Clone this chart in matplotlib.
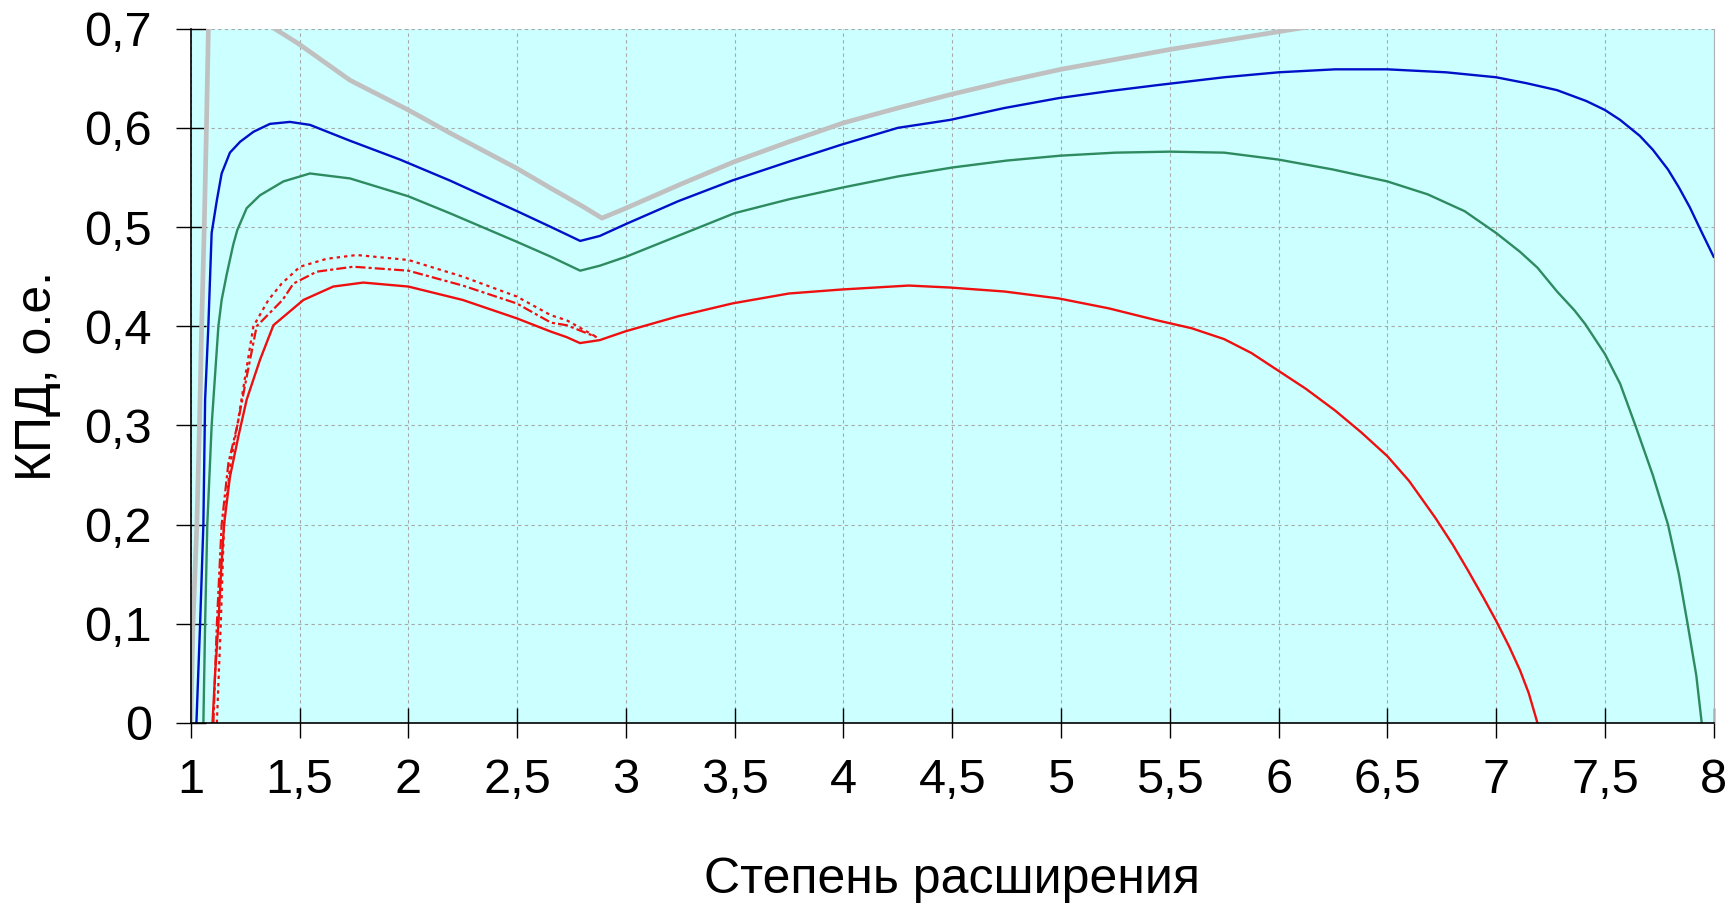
import matplotlib
matplotlib.use('Agg')
import matplotlib.pyplot as plt

# efficiency vs expansion ratio
gray_x = [1.0, 1.01, 1.028, 1.04, 1.05, 1.062, 1.072, 1.081, 1.09, 1.15, 1.25, 1.38, 1.494,
          1.732, 2.0, 2.19, 2.5, 2.656, 2.8, 2.89, 3.0, 3.25, 3.5, 3.75, 4.0, 4.25, 4.5, 4.75,
          5.0, 5.25, 5.5, 5.75, 6.0, 6.2]
gray_y = [0, 0.1, 0.2, 0.3, 0.4, 0.5, 0.6, 0.7, 0.74, 0.76, 0.74, 0.7007, 0.685,
          0.648, 0.618, 0.595, 0.559, 0.539, 0.521, 0.509, 0.519, 0.543, 0.566, 0.586, 0.605,
          0.62, 0.634, 0.647, 0.659, 0.669, 0.679, 0.688, 0.697, 0.704]

blue_x = [1.026, 1.043, 1.058, 1.066, 1.081, 1.096, 1.12, 1.142, 1.18, 1.227, 1.288, 1.364,
          1.456, 1.548, 1.732, 1.962, 2.19, 2.5, 2.656, 2.79, 2.88, 3.0, 3.24, 3.49, 3.75, 3.99,
          4.25, 4.49, 4.74, 4.99, 5.22, 5.44, 5.75, 6.0, 6.26, 6.5, 6.77, 7.0, 7.14, 7.28, 7.415,
          7.5, 7.57, 7.66, 7.72, 7.79, 7.84, 7.89, 7.94, 8.0]
blue_y = [0, 0.1, 0.2, 0.326, 0.401, 0.494, 0.527, 0.554, 0.575, 0.586, 0.596, 0.604,
          0.606, 0.603, 0.587, 0.568, 0.547, 0.516, 0.500, 0.486, 0.491, 0.503, 0.526, 0.547,
          0.566, 0.583, 0.600, 0.608, 0.620, 0.630, 0.637, 0.643, 0.651, 0.656, 0.659, 0.659,
          0.656, 0.651, 0.645, 0.638, 0.627, 0.618, 0.608, 0.592, 0.578, 0.558, 0.540, 0.520,
          0.497, 0.470]

green_x = [1.058, 1.066, 1.076, 1.096, 1.127, 1.142, 1.165, 1.195, 1.214, 1.257, 1.318, 1.426,
           1.548, 1.732, 2.0, 2.19, 2.5, 2.656, 2.79, 2.88, 3.0, 3.25, 3.5, 3.75, 4.0, 4.25,
           4.5, 4.75, 5.0, 5.25, 5.5, 5.75, 6.0, 6.25, 6.5, 6.685, 6.855, 7.0, 7.11, 7.19, 7.28,
           7.36, 7.41, 7.5, 7.57, 7.64, 7.72, 7.79, 7.84, 7.88, 7.92, 7.945]
green_y = [0, 0.1, 0.2, 0.3, 0.4, 0.4265, 0.452, 0.482, 0.497, 0.519, 0.532, 0.546,
           0.554, 0.549, 0.531, 0.514, 0.485, 0.470, 0.456, 0.461, 0.470, 0.492, 0.514, 0.528,
           0.540, 0.551, 0.560, 0.567, 0.572, 0.575, 0.576, 0.575, 0.568, 0.558, 0.546, 0.533,
           0.516, 0.494, 0.475, 0.459, 0.435, 0.416, 0.402, 0.372, 0.342, 0.300, 0.250, 0.200,
           0.150, 0.100, 0.048, 0]

red_x = [1.10, 1.112, 1.127, 1.139, 1.153, 1.18, 1.219, 1.257, 1.318, 1.38, 1.518, 1.655,
         1.793, 2.0, 2.25, 2.498, 2.656, 2.728, 2.789, 2.88, 3.0, 3.24, 3.49, 3.75, 3.99, 4.30,
         4.49, 4.74, 4.99, 5.22, 5.44, 5.6, 5.75, 5.875, 6.0, 6.125, 6.26, 6.38, 6.5, 6.6, 6.72,
         6.8, 6.87, 6.94, 7.0, 7.06, 7.11, 7.15, 7.19]
red_y = [0, 0.05, 0.1, 0.151, 0.2, 0.248, 0.289, 0.326, 0.366, 0.401, 0.4265, 0.44,
         0.444, 0.44, 0.4265, 0.408, 0.3945, 0.389, 0.383, 0.386, 0.395, 0.41, 0.423, 0.433,
         0.437, 0.441, 0.439, 0.435, 0.428, 0.418, 0.406, 0.398, 0.387, 0.373, 0.355, 0.337,
         0.315, 0.293, 0.269, 0.244, 0.207, 0.18, 0.154, 0.127, 0.103, 0.077, 0.053, 0.030, 0]

red_dash_x = [1.104, 1.12, 1.142, 1.173, 1.214, 1.257, 1.303, 1.422, 1.472, 1.579, 1.747, 2.0,
              2.25, 2.498, 2.656, 2.728, 2.866]
red_dash_y = [0, 0.1, 0.2, 0.262, 0.3, 0.349, 0.4, 0.4265, 0.443, 0.455, 0.460, 0.456,
              0.441, 0.423, 0.4036, 0.401, 0.389]

red_dot_x = [1.12, 1.138, 1.153, 1.18, 1.214, 1.25, 1.288, 1.357, 1.418, 1.502, 1.625, 1.763,
             2.0, 2.25, 2.498, 2.656, 2.728, 2.866]
red_dot_y = [0, 0.1, 0.2, 0.258, 0.3, 0.349, 0.4, 0.4265, 0.443, 0.46, 0.468, 0.4718,
             0.4668, 0.45, 0.43, 0.411, 0.406, 0.389]

x_ticks = [1, 1.5, 2, 2.5, 3, 3.5, 4, 4.5, 5, 5.5, 6, 6.5, 7, 7.5, 8]
x_labels = ['1', '1,5', '2', '2,5', '3', '3,5', '4', '4,5', '5', '5,5', '6', '6,5', '7', '7,5', '8']
y_ticks = [0, 0.1, 0.2, 0.3, 0.4, 0.5, 0.6, 0.7]
y_labels = ['0', '0,1', '0,2', '0,3', '0,4', '0,5', '0,6', '0,7']

plt.rcParams['font.family'] = ['Liberation Sans', 'DejaVu Sans']

fig = plt.figure(figsize=(17.31, 9.07), dpi=100)
ax = fig.add_axes([0.1102, 0.2029, 0.8798, 0.7655])
ax.set_facecolor('#ccffff')

ax.plot(gray_x, gray_y, color='#c0c0c0', lw=3.4, solid_joinstyle='round')
ax.plot(blue_x, blue_y, color='#0010c8', lw=1.7, solid_joinstyle='round')
ax.plot(green_x, green_y, color='#2e8b60', lw=1.7, solid_joinstyle='round')
ax.plot(red_dot_x, red_dot_y, color='#ee1010', lw=1.6, linestyle=(0, (1.5, 1.8)))
ax.plot(red_dash_x, red_dash_y, color='#ee1010', lw=1.6, linestyle=(0, (4.5, 1.4, 1.4, 1.4)))
ax.plot(red_x, red_y, color='#ee1010', lw=1.7, solid_joinstyle='round')

ax.set_xlim(1, 8)
ax.set_ylim(0, 0.7)
ax.set_xticks(x_ticks)
ax.set_xticklabels(x_labels)
ax.set_yticks(y_ticks)
ax.set_yticklabels(y_labels)

ax.grid(True, color='#a8a8a8', lw=0.8, linestyle=(0, (3, 3)))
ax.set_axisbelow(True)

for side in ['left', 'bottom']:
    ax.spines[side].set_color('black')
    ax.spines[side].set_linewidth(1.2)
ax.spines['top'].set_visible(False)
ax.spines['right'].set_color('#b0b0b0')
ax.spines['right'].set_linewidth(0.8)

ax.tick_params(axis='both', direction='inout', length=22, width=1.0, labelsize=35)
ax.tick_params(axis='x', pad=14)
ax.tick_params(axis='y', pad=17)

fig.text(0.55, 0.03, 'Степень расширения', fontsize=36, ha='center', va='center')
fig.text(0.022, 0.586, 'КПД, о.е.', fontsize=36, rotation=90, ha='center', va='center')

fig.savefig('out.png', dpi=100)
